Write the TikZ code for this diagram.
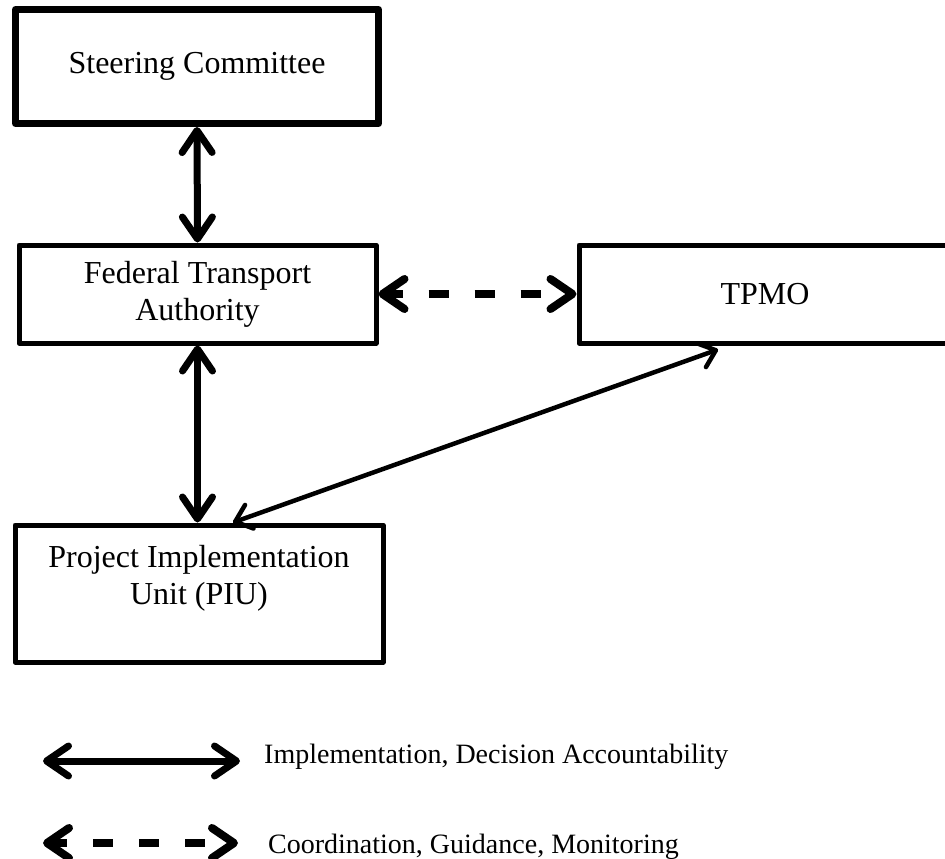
\documentclass[tikz,border=0pt]{standalone}
\usepackage{fontspec}
\setmainfont{Liberation Serif}
\usetikzlibrary{arrows.meta,positioning,calc}

\begin{document}
\begin{tikzpicture}[x=1pt, y=-1pt,
  box/.style={draw, line width=5pt, line join=round, inner sep=0pt, align=center, font=\fontsize{32}{37}\selectfont},
  lbl/.style={font=\fontsize{28}{33}\selectfont, inner sep=0pt},
  link/.style={line width=7pt, >={Straight Barb[round, length=22pt, width=30pt]}, <->},
  coord/.style={link, line width=8pt, dash pattern=on 20pt off 26pt, dash phase=4pt},
  thin/.style={line width=4.5pt, >={Straight Barb[round, length=15pt, width=25pt]}, <->}
]
\clip (0,0) rectangle (945,859);
\node[box, line width=7pt, minimum width=363pt, minimum height=114pt] (steer) at (197,66.5) {Steering Committee};
\node[box, minimum width=357pt, minimum height=98pt] (fta) at (197.5,294) {Federal Transport\\Authority};
\node[box, minimum width=372pt, minimum height=98pt] (tpmo) at (765,294) {TPMO};
\node[box, minimum width=368pt, minimum height=137pt] (piu) at (199,593.5) {Project Implementation\\Unit (PIU)\\\mbox{}};

\draw[link] (steer.south) -- (fta.north);
\draw[link] (fta.south) -- (fta.south |- piu.north);
\draw[coord] (fta.east) -- (tpmo.west);
\draw[thin] ([xshift=34pt]piu.north) -- ([xshift=-47pt, yshift=-4pt]tpmo.south);

% legend
\coordinate (k1s) at (43,761);
\coordinate (k1e) at (240,761);
\coordinate (k2s) at (43,843);
\coordinate (k2e) at (238,843);
\draw[link] (k1s) -- (k1e);
\draw[coord] (k2s) -- (k2e);
\node[lbl, anchor=base west] (k1t) at (264,763) {Implementation, Decision Accountability};
\node[lbl, anchor=base west] (k2t) at (268,853) {Coordination, Guidance, Monitoring};
\end{tikzpicture}
\end{document}
